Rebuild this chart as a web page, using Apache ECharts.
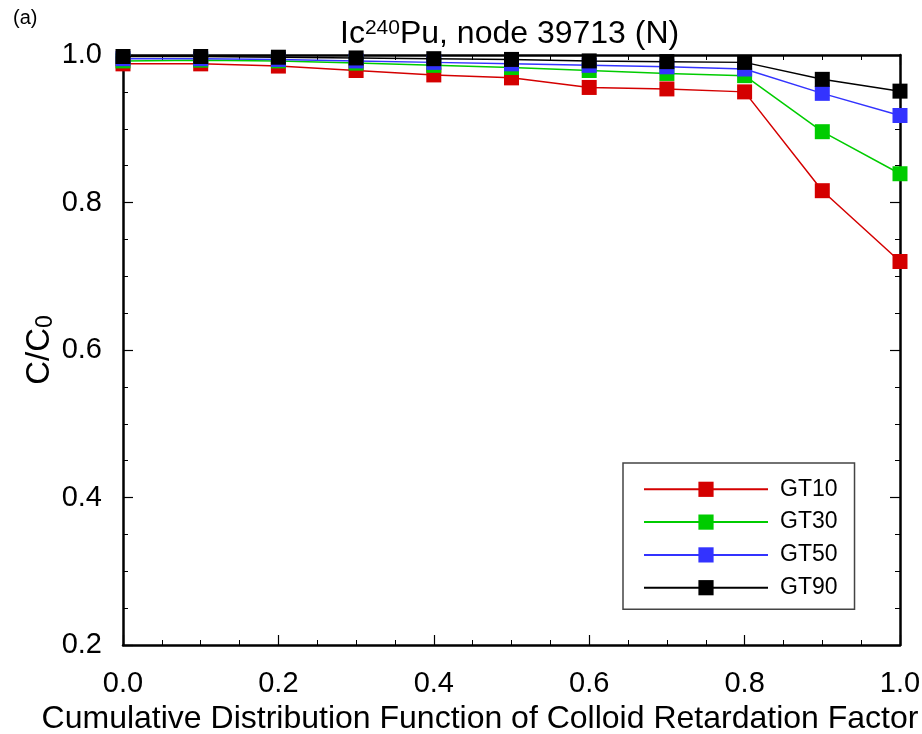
<!DOCTYPE html>
<html>
<head>
<meta charset="utf-8">
<script src="https://cdn.jsdelivr.net/npm/echarts@6/dist/echarts.min.js"></script>
<style>
  html, body { margin: 0; padding: 0; background: #fff; }
  #chart { width: 922px; height: 734px; }
</style>
</head>
<body>
<div id="chart"></div>
<script>
// CDF of colloid retardation factor (x) and relative concentration C/C0 (y)
const cdf = [0.0, 0.1, 0.2, 0.3, 0.4, 0.5, 0.6, 0.7, 0.8, 0.9, 1.0];
const seriesNames = ['GT10', 'GT30', 'GT50', 'GT90'];
const gt10 = [0.988, 0.988, 0.985, 0.979, 0.973, 0.969, 0.956, 0.954, 0.950, 0.816, 0.720];
const gt30 = [0.992, 0.993, 0.992, 0.989, 0.986, 0.983, 0.979, 0.975, 0.972, 0.896, 0.839];
const gt50 = [0.995, 0.995, 0.994, 0.992, 0.990, 0.988, 0.986, 0.984, 0.981, 0.948, 0.918];
const gt90 = [0.998, 0.998, 0.997, 0.996, 0.995, 0.994, 0.992, 0.991, 0.990, 0.967, 0.951];
const xTicks = [0.0, 0.2, 0.4, 0.6, 0.8, 1.0];
const yTicks = [0.2, 0.4, 0.6, 0.8, 1.0];

const colors = ['#d40000', '#00cc00', '#3333ff', '#000000'];
const values = [gt10, gt30, gt50, gt90];
const FONT = '"Liberation Sans", Arial, sans-serif';

const chart = echarts.init(document.getElementById('chart'), null, { renderer: 'canvas' });

function pairs(ys) { return cdf.map((x, i) => [x, ys[i]]); }

const axisCommon = {
  type: 'value',
  interval: 0.2,
  axisLine: { show: true, onZero: false, lineStyle: { color: '#000', width: 2.5 } },
  axisTick: { show: true, inside: true, length: 10, lineStyle: { color: '#000', width: 1.2 } },
  minorTick: { show: true, splitNumber: 4, length: 5, lineStyle: { color: '#000', width: 1 } },
  splitLine: { show: false }
};

const option = {
  animation: false,
  backgroundColor: '#ffffff',
  title: {
    text: 'Ic{sup|240}Pu, node 39713 (N)',
    left: 335, top: 13,
    textStyle: {
      fontFamily: FONT, fontSize: 32, fontWeight: 'normal', color: '#000',
      rich: { sup: { fontFamily: FONT, fontSize: 21, color: '#000', verticalAlign: 'top', padding: [0, 0, 10, 0] } }
    }
  },
  graphic: [{
    type: 'text', left: 13, top: 8,
    style: { text: '(a)', font: '20px "Liberation Sans", Arial, sans-serif', fill: '#000' }
  }],
  legend: {
    orient: 'vertical',
    left: 623, top: 463,
    padding: [14.8, 17, 10, 20],
    borderColor: '#444', borderWidth: 1.5,
    backgroundColor: '#fff',
    itemWidth: 124, itemHeight: 19, itemGap: 9.8,
    data: seriesNames,
    textStyle: { fontFamily: FONT, fontSize: 23, color: '#000', lineHeight: 23, padding: [0, 0, 0, 7] }
  },
  grid: { left: 123, right: 22, top: 55, bottom: 89, containLabel: false, outerBoundsMode: 'none' },
  xAxis: [
    Object.assign({}, axisCommon, {
      min: xTicks[0], max: xTicks[xTicks.length - 1], position: 'bottom',
      name: 'Cumulative Distribution Function of Colloid Retardation Factor',
      nameLocation: 'middle', nameGap: 58, nameMoveOverlap: false,
      nameTextStyle: { fontFamily: FONT, fontSize: 32, color: '#000', padding: [0, 63, 0, 0] },
      axisLabel: {
        show: true, margin: 24, fontFamily: FONT, fontSize: 29, color: '#000',
        formatter: v => v.toFixed(1)
      }
    }),
    Object.assign({}, axisCommon, {
      min: xTicks[0], max: xTicks[xTicks.length - 1], position: 'top',
      axisLabel: { show: false }
    })
  ],
  yAxis: [
    Object.assign({}, axisCommon, {
      min: yTicks[0], max: yTicks[yTicks.length - 1], position: 'left',
      name: '{a|C/C}{sub|0}',
      nameLocation: 'middle', nameGap: 66, nameRotate: 90, nameMoveOverlap: false,
      nameTextStyle: {
        fontFamily: FONT, fontSize: 33, color: '#000',
        rich: {
          a: { fontFamily: FONT, fontSize: 33, color: '#000' },
          sub: { fontFamily: FONT, fontSize: 23, color: '#000', verticalAlign: 'bottom', padding: [12, 0, 0, 0] }
        }
      },
      axisLabel: {
        show: true, margin: 21, fontFamily: FONT, fontSize: 29, color: '#000',
        formatter: v => v.toFixed(1)
      }
    }),
    Object.assign({}, axisCommon, {
      min: yTicks[0], max: yTicks[yTicks.length - 1], position: 'right',
      axisLabel: { show: false }
    })
  ],
  series: seriesNames.map((name, i) => ({
    name: name,
    type: 'line',
    data: pairs(values[i]),
    symbol: 'rect',
    symbolSize: 15,
    showSymbol: true,
    color: colors[i],
    lineStyle: { color: colors[i], width: 1.5 },
    itemStyle: { color: colors[i] },
    z: 2 + i
  }))
};

chart.setOption(option);
</script>
</body>
</html>
